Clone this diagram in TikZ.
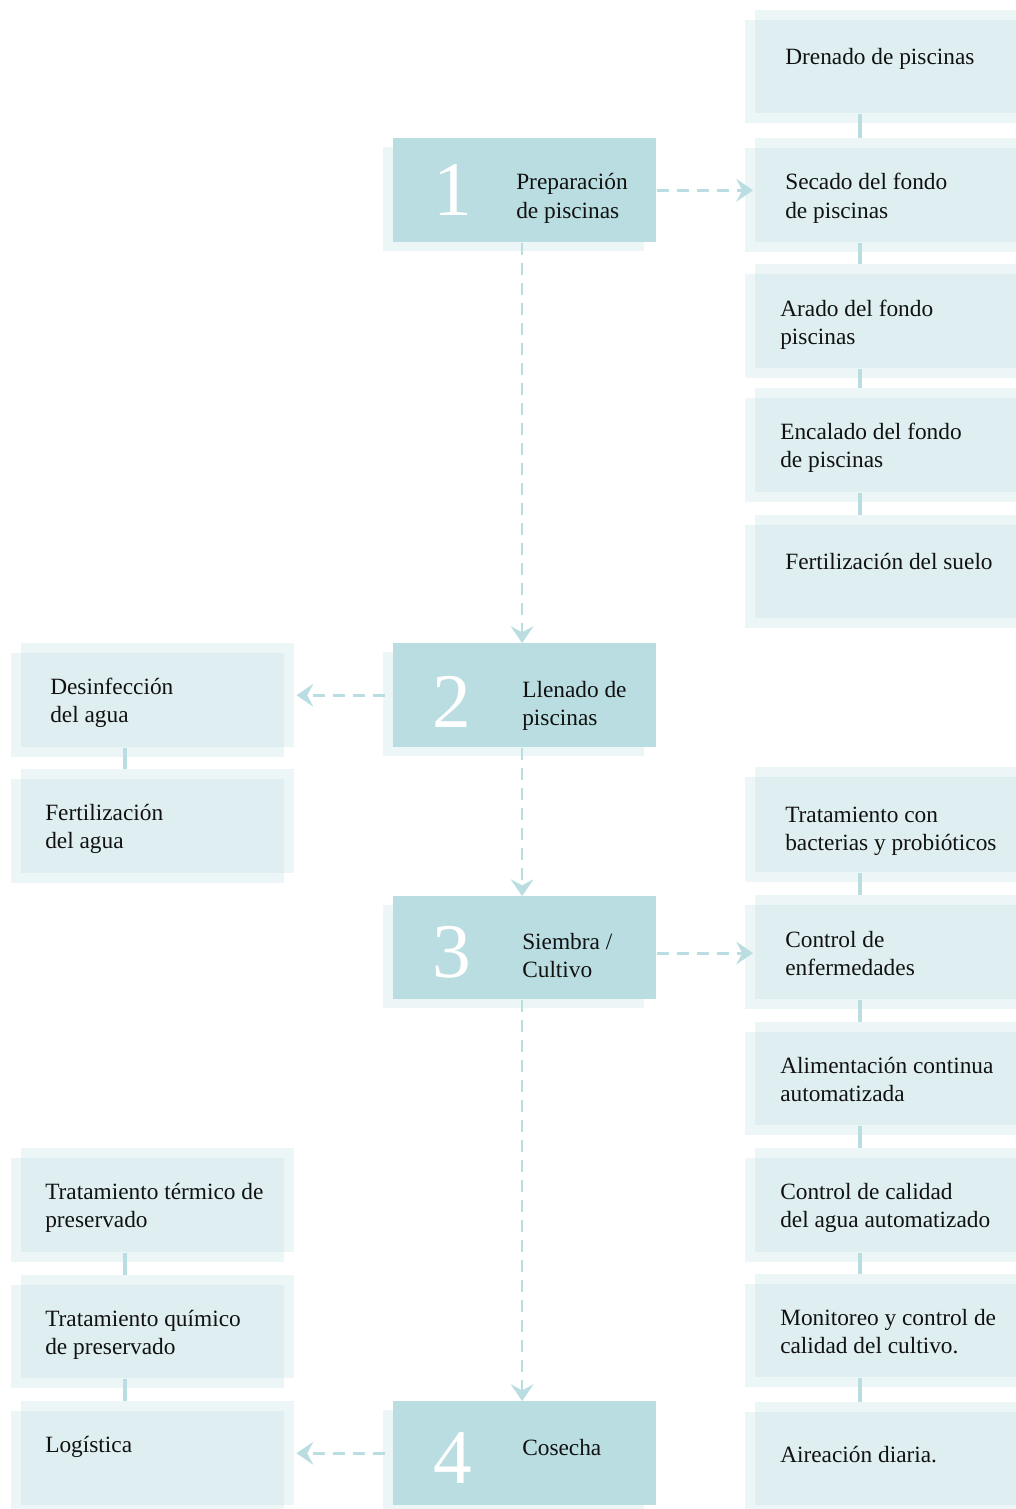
\documentclass[tikz,border=0pt]{standalone}
\usepackage{fontspec}
\setmainfont{Liberation Serif}
\usetikzlibrary{arrows.meta}
\definecolor{boxc}{HTML}{B9DDE0}
\definecolor{txtc}{HTML}{111111}
\tikzset{
  shadowbox/.style={fill=boxc, fill opacity=0.25},
  lightbox/.style={fill=boxc, fill opacity=0.25, draw=none, inner sep=0pt, anchor=north west},
  mainbox/.style={fill=boxc, draw=none, inner sep=0pt, anchor=north west, minimum width=263*0.75pt},
  lbl/.style={anchor=base west, align=left, inner sep=0pt, font=\fontsize{17.5}{21}\selectfont, text=txtc},
  digit/.style={anchor=base, inner sep=0pt, font=\fontsize{58}{60}\selectfont, text=white},
  link/.style={draw=boxc, line width=2.4pt},
  tipstyle/.style={-{Stealth[length=12.5pt,width=17pt,inset=4.5pt]}},
  flowh/.style={draw=boxc, line width=2.4pt, dash pattern=on 9pt off 6pt, tipstyle},
  flowv/.style={draw=boxc, line width=1.8pt, dash pattern=on 9pt off 6pt, tipstyle},
}
\newcommand\lightpair[5]{%
  \fill[shadowbox] ({#2-10},{#3+10}) rectangle ({#2-10+#5},{#4+10});
  \node[lightbox, minimum width={#5*0.75pt}, minimum height={(#4-#3)*0.75pt}] (#1) at (#2,#3) {};
}
\newcommand\mainpair[3]{%
  \fill[shadowbox] (383,{#2+9}) rectangle (644,{#3+9});
  \node[mainbox, minimum height={(#3-#2)*0.75pt}] (#1) at (393,#2) {};
}
\begin{document}
\begin{tikzpicture}[x=0.75pt,y=-0.75pt]
\useasboundingbox (0,0) rectangle (1016,1509);
\fill[white] (0,0) rectangle (1016,1509);

% right column
\lightpair{r1}{755}{10}{113}{300}
\lightpair{r2}{755}{138}{242}{300}
\lightpair{r3}{755}{264}{368}{300}
\lightpair{r4}{755}{388}{492}{300}
\lightpair{r5}{755}{515}{618}{300}
\lightpair{r6}{755}{767}{872}{300}
\lightpair{r7}{755}{895}{999}{300}
\lightpair{r8}{755}{1022}{1125}{300}
\lightpair{r9}{755}{1148}{1252}{300}
\lightpair{r10}{755}{1274}{1377}{300}
\lightpair{r11}{755}{1402}{1505}{300}
% left column
\lightpair{l1}{21}{643}{747}{273}
\lightpair{l2}{21}{769}{873}{273}
\lightpair{l3}{21}{1148}{1252}{273}
\lightpair{l4}{21}{1275}{1378}{273}
\lightpair{l5}{21}{1401}{1505}{273}
% main column
\mainpair{m1}{138}{242}
\mainpair{m2}{643}{747}
\mainpair{m3}{896}{999}
\mainpair{m4}{1401}{1505}

% links
\foreach \a/\b in {r1/r2,r2/r3,r3/r4,r4/r5,r6/r7,r7/r8,r8/r9,r9/r10,r10/r11}
  \draw[link] ([xshift=105*0.75pt]\a.south west) -- ([xshift=105*0.75pt]\b.north west);
\foreach \a/\b in {l1/l2,l3/l4,l4/l5}
  \draw[link] ([xshift=104*0.75pt]\a.south west) -- ([xshift=104*0.75pt]\b.north west);

% flow arrows
\draw[flowh, shorten >=1.5pt] (m1.east) -- (m1.east -| r2.west);
\draw[flowh, shorten >=1.5pt, shorten <=6pt] (m2.west) -- (m2.west -| l1.east);
\draw[flowh, shorten >=1.5pt] ([yshift=-4pt]m3.east) -- ([yshift=-4pt]m3.east -| r7.west);
\draw[flowh, shorten >=1.5pt, shorten <=6pt] (m4.west) -- (m4.west -| l5.east);
\draw[flowv] ([xshift=-2pt]m1.south) -- ([xshift=-2pt]m2.north);
\draw[flowv] ([xshift=-2pt]m2.south) -- ([xshift=-2pt]m3.north);
\draw[flowv] ([xshift=-2pt]m3.south) -- ([xshift=-2pt]m4.north);

% texts right (base anchor = last line baseline)
\node[lbl] (tr1) at (785,65) {Drenado de piscinas};
\node[lbl] (tr2) at (785,218) {Secado del fondo\\de piscinas};
\node[lbl] (tr3) at (780,344) {Arado del fondo\\piscinas};
\node[lbl] (tr4) at (780,467) {Encalado del fondo\\de piscinas};
\node[lbl] (tr5) at (785,569) {Fertilización del suelo};
\node[lbl] (tr6) at (785,850) {Tratamiento con\\bacterias y probióticos};
\node[lbl] (tr7) at (785,975) {Control de\\enfermedades};
\node[lbl] (tr8) at (780,1101) {Alimentación continua\\automatizada};
\node[lbl] (tr9) at (780,1227) {Control de calidad\\del agua automatizado};
\node[lbl] (tr10) at (780,1353) {Monitoreo y control de\\calidad del cultivo.};
\node[lbl] (tr11) at (780,1462) {Aireación diaria.};
% texts left
\node[lbl] (tl1) at (50,722) {Desinfección\\del agua};
\node[lbl] (tl2) at (45,848) {Fertilización\\del agua};
\node[lbl] (tl3) at (45,1227) {Tratamiento térmico de\\preservado};
\node[lbl] (tl4) at (45,1354) {Tratamiento químico\\de preservado};
\node[lbl] (tl5) at (45,1452) {Logística};
% main texts
\node[lbl] (tm1) at (516,218) {Preparación\\de piscinas};
\node[lbl] (tm2) at (522,725) {Llenado de\\piscinas};
\node[lbl] (tm3) at (522,977) {Siembra /\\Cultivo};
\node[lbl] (tm4) at (522,1455) {Cosecha};
\node[digit] (d1) at (453,215) {1};
\node[digit] (d2) at (452,727) {2};
\node[digit] (d3) at (452,977) {3};
\node[digit] (d4) at (453,1483) {4};
\end{tikzpicture}
\end{document}
